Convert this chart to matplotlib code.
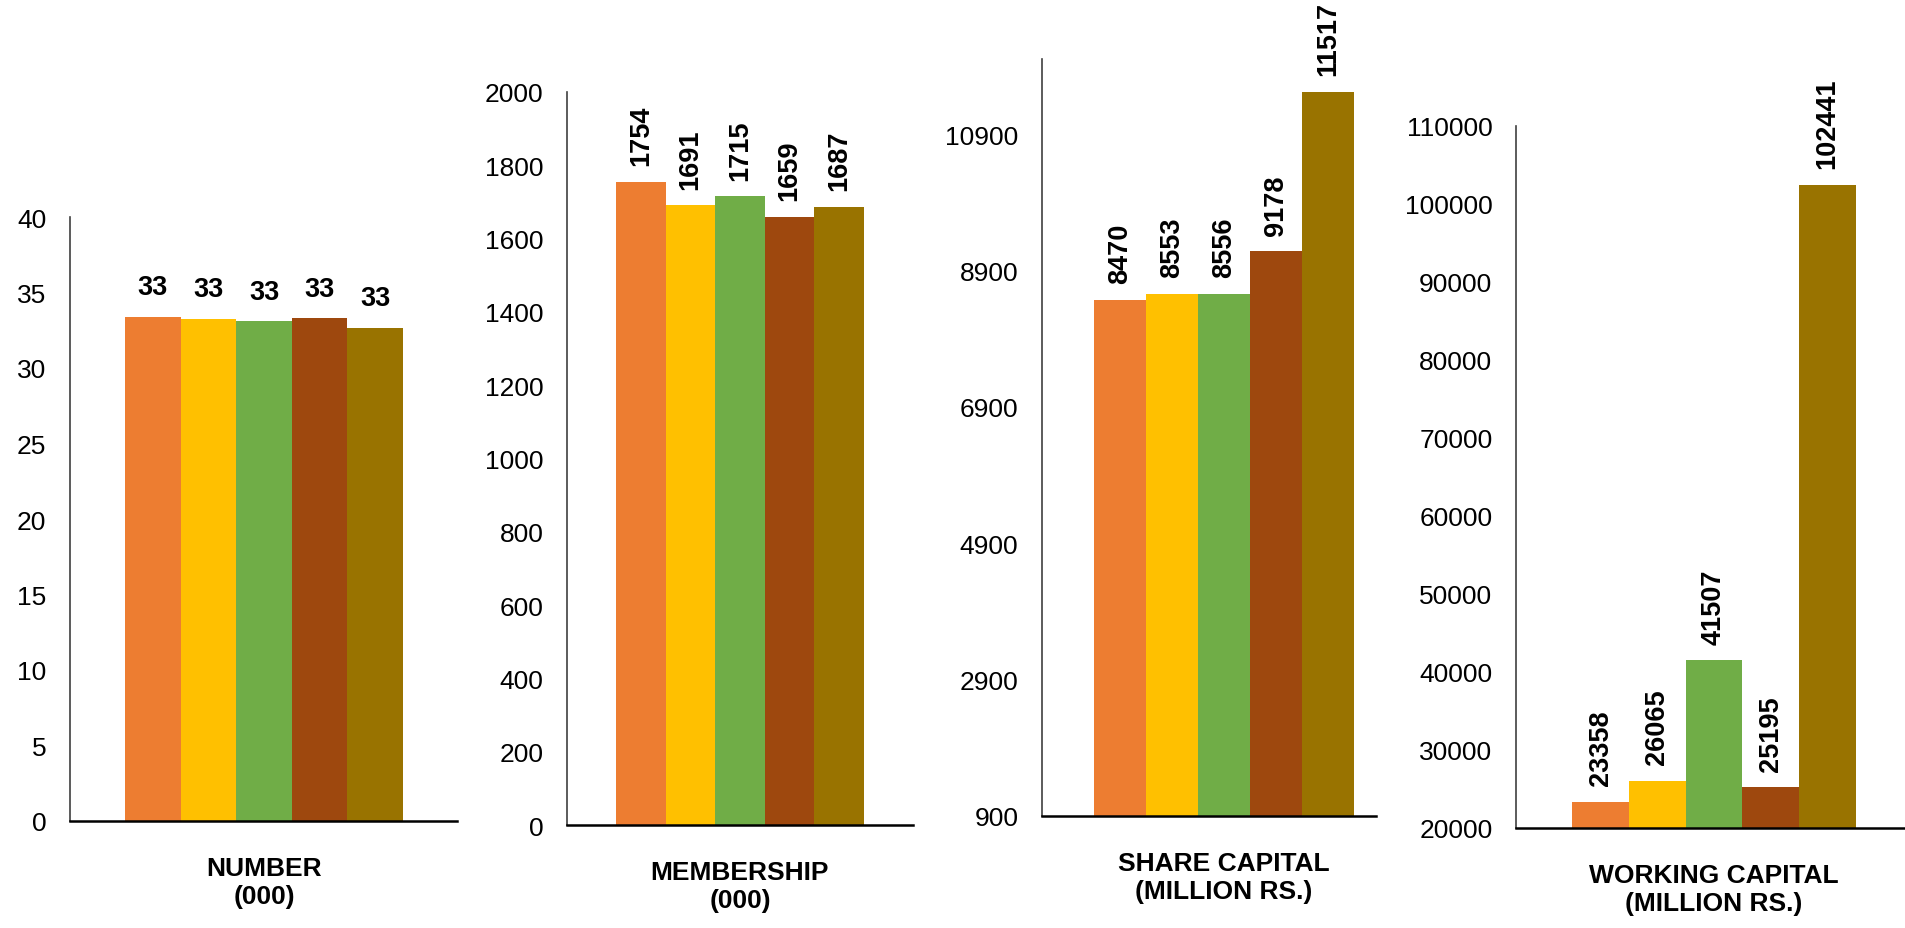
import matplotlib
matplotlib.use('Agg')
import matplotlib.pyplot as plt
import numpy as np

plt.rcParams['font.family'] = ['Liberation Sans', 'DejaVu Sans']

colors = ['#ED7D31', '#FFC000', '#70AD47', '#9E480E', '#997300']

number_vals = [33.4, 33.25, 33.1, 33.3, 32.65]
member_vals = [1754, 1691, 1715, 1659, 1687]
share_vals = [8470, 8553, 8556, 9178, 11517]
working_vals = [23358, 26065, 41507, 25195, 102441]

cat_labels = ['NUMBER\n(000)', 'MEMBERSHIP\n(000)',
              'SHARE CAPITAL\n(MILLION RS.)', 'WORKING CAPITAL\n(MILLION RS.)']

W, H = 1906, 929
fig = plt.figure(figsize=(W / 100, H / 100), dpi=100)

# pixel boxes: left, right, top, bottom
boxes = [(70, 457, 218, 822), (567, 913, 93, 826),
         (1042, 1376, 60, 817), (1516, 1912, 127, 829)]
xlims = [(-1.49, 5.47), (-1.49, 5.49), (-1.5, 4.92), (-1.49, 5.49)]
ylims = [(0, 40), (0, 2000), (900, 12000), (20000, 110000)]
yticks = [np.arange(0, 41, 5), np.arange(0, 2001, 200),
          np.arange(900, 10901, 2000), np.arange(20000, 110001, 10000)]
series = [number_vals, member_vals, share_vals, working_vals]


def panel(i):
    l, r, t, b = boxes[i]
    ax = fig.add_axes([l / W, 1 - b / H, (r - l) / W, (b - t) / H])
    vals = series[i]
    x = np.arange(len(vals))
    ax.bar(x, np.array(vals) - ylims[i][0], bottom=ylims[i][0], width=1.0,
           color=colors, edgecolor='none')
    ax.set_xlim(*xlims[i])
    ax.set_ylim(*ylims[i])
    ax.set_yticks(yticks[i])
    ax.set_xticks([2])
    ax.set_xticklabels([cat_labels[i]], fontsize=19, fontweight='bold',
                       linespacing=1.25)
    ax.tick_params(axis='y', length=0, pad=17, labelsize=19)
    ax.tick_params(axis='x', length=0, pad=25)
    for s in ['top', 'right']:
        ax.spines[s].set_visible(False)
    ax.spines['left'].set_color('#404040')
    ax.spines['left'].set_linewidth(1.2)
    ax.spines['bottom'].set_color('#000000')
    ax.spines['bottom'].set_linewidth(1.8)
    ax.spines['bottom'].set_zorder(3)
    for xi, v in zip(x, vals):
        if i == 0:
            ax.annotate('%d' % round(v), (xi, v), xytext=(0, 12),
                        textcoords='offset points', ha='center', va='bottom',
                        fontsize=19.5, fontweight='bold', annotation_clip=False)
        else:
            ax.annotate('%d' % v, (xi, v), xytext=(0, 12),
                        textcoords='offset points', ha='center', va='bottom',
                        rotation=90, fontsize=19.5, fontweight='bold',
                        annotation_clip=False)
    return ax


for i in range(4):
    panel(i)

fig.savefig('out.png', dpi=100)
